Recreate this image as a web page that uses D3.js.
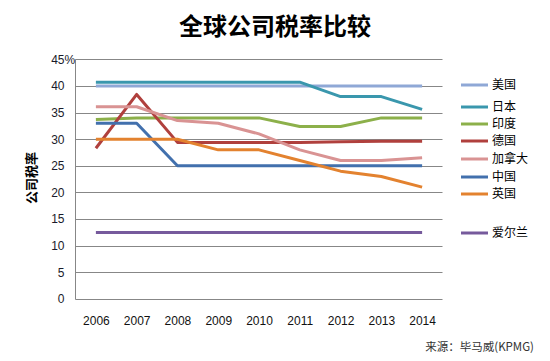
<!DOCTYPE html>
<html>
<head>
<meta charset="utf-8">
<script src="https://cdn.jsdelivr.net/npm/d3@7"></script>
<style>
body { margin: 0; background: #fff; }
text { font-family: "Liberation Sans", "Noto Sans CJK SC", sans-serif; }
.cjk { font-family: "Noto Sans CJK SC", sans-serif; }
</style>
</head>
<body>
<div id="chart"></div>
<script>
// data
var years = ["2006", "2007", "2008", "2009", "2010", "2011", "2012", "2013", "2014"];
var countries = ["美国", "日本", "印度", "德国", "加拿大", "中国", "英国", "爱尔兰"];
var usRates      = [40, 40, 40, 40, 40, 40, 40, 40, 40];
var japanRates   = [40.7, 40.7, 40.7, 40.7, 40.7, 40.7, 38.0, 38.0, 35.6];
var indiaRates   = [33.7, 34.0, 34.0, 34.0, 34.0, 32.4, 32.4, 34.0, 34.0];
var germanyRates = [28.3, 38.4, 29.4, 29.4, 29.4, 29.4, 29.5, 29.6, 29.6];
var canadaRates  = [36.1, 36.1, 33.5, 33.0, 31.0, 28.0, 26.0, 26.0, 26.5];
var chinaRates   = [33, 33, 25, 25, 25, 25, 25, 25, 25];
var ukRates      = [30, 30, 30, 28, 28, 26, 24, 23, 21];
var irelandRates = [12.5, 12.5, 12.5, 12.5, 12.5, 12.5, 12.5, 12.5, 12.5];
var yTicks = [0, 5, 10, 15, 20, 25, 30, 35, 40, 45];

var allRates = [usRates, japanRates, indiaRates, germanyRates, canadaRates, chinaRates, ukRates, irelandRates];
var colors = ["#8fa8d6", "#3a97ad", "#8cb04a", "#b0403d", "#d99393", "#4270ad", "#e3822f", "#765a9c"];
var legendY = [85, 107, 124, 141, 159, 177, 194, 233];

var svg = d3.select("#chart").append("svg")
	.attr("width", 550)
	.attr("height", 361);

var x = d3.scalePoint()
	.domain(years)
	.range([75.5, 442.5])
	.padding(0.5);

var y = d3.scaleLinear()
	.domain([0, 45])
	.range([299, 59.3]);

// title
svg.append("text")
	.attr("class", "cjk")
	.attr("x", 275)
	.attr("y", 35)
	.attr("text-anchor", "middle")
	.style("font-size", "24px")
	.style("font-weight", "bold")
	.style("fill", "#000")
	.text("全球公司税率比较");

// gridlines
var grid = svg.append("g");
grid.selectAll("line")
	.data(yTicks)
	.enter()
	.append("line")
	.attr("x1", 75.5)
	.attr("x2", 442.5)
	.attr("y1", function(d) { return Math.round(y(d)) + 0.5; })
	.attr("y2", function(d) { return Math.round(y(d)) + 0.5; })
	.attr("stroke", "#878787")
	.attr("stroke-width", 1);

// y axis
var yAxis = svg.append("g")
	.attr("transform", "translate(75.5,0)")
	.call(d3.axisLeft(y).tickValues(yTicks).tickSize(0).tickPadding(11));
yAxis.select(".domain").attr("stroke", "#878787").attr("d", "M0," + y(45) + "V" + (Math.round(y(0)) + 0.5));
yAxis.selectAll("text")
	.style("font-family", "Liberation Sans, sans-serif")
	.style("font-size", "12px")
	.style("fill", "#1a1a2a");
yAxis.selectAll(".tick")
	.filter(function(d) { return d === 45; })
	.append("text")
	.attr("x", -11)
	.attr("dy", "0.32em")
	.attr("text-anchor", "start")
	.style("font-size", "12px")
	.style("fill", "#1a1a2a")
	.text("%");

// x axis labels
var xAxis = svg.append("g")
	.attr("transform", "translate(0,299)")
	.call(d3.axisBottom(x).tickSize(0).tickPadding(17));
xAxis.select(".domain").remove();
xAxis.selectAll("text")
	.style("font-family", "Liberation Sans, sans-serif")
	.style("font-size", "12px")
	.style("fill", "#111");

// y axis title
svg.append("text")
	.attr("class", "cjk")
	.attr("transform", "translate(36,178) rotate(-90)")
	.attr("text-anchor", "middle")
	.style("font-size", "13px")
	.style("font-weight", "bold")
	.text("公司税率");

// lines
var line = d3.line()
	.x(function(d, i) { return x(years[i]); })
	.y(function(d) { return y(d); });

svg.append("g").selectAll("path")
	.data(allRates)
	.enter()
	.append("path")
	.attr("d", line)
	.attr("fill", "none")
	.attr("stroke", function(d, i) { return colors[i]; })
	.attr("stroke-width", 3)
	.attr("stroke-linejoin", "round");

// legend
var legend = svg.append("g").selectAll("g")
	.data(countries)
	.enter()
	.append("g")
	.attr("transform", function(d, i) { return "translate(0," + legendY[i] + ")"; });
legend.append("line")
	.attr("x1", 461)
	.attr("x2", 488)
	.attr("stroke", function(d, i) { return colors[i]; })
	.attr("stroke-width", 3);
legend.append("text")
	.attr("class", "cjk")
	.attr("x", 492)
	.attr("dy", "0.35em")
	.style("font-size", "12px")
	.style("fill", "#000")
	.text(function(d) { return d; });

// source
svg.append("text")
	.attr("class", "cjk")
	.attr("x", 534)
	.attr("y", 351)
	.attr("text-anchor", "end")
	.style("font-size", "11.5px")
	.style("fill", "#333")
	.text("来源：毕马威(KPMG)");
</script>
</body>
</html>
